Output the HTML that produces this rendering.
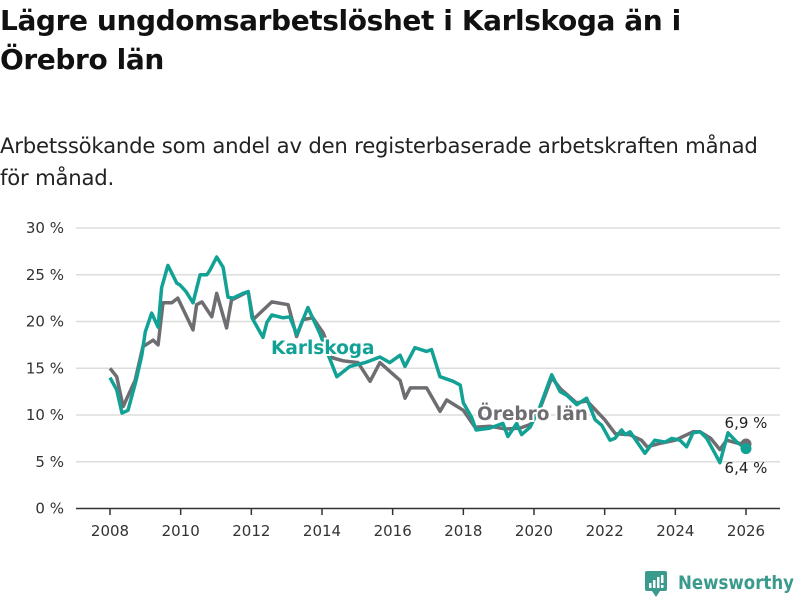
<!DOCTYPE html>
<html><head><meta charset="utf-8"><style>
body{margin:0;background:#fff;font-family:"DejaVu Sans","Liberation Sans",sans-serif;}
#wrap{position:relative;width:800px;height:600px;overflow:hidden;}
h1{position:absolute;left:0;top:1px;margin:0;font-size:28px;line-height:39px;font-weight:bold;color:#111;width:760px;letter-spacing:-0.4px;}
p.sub{position:absolute;left:0;top:130px;margin:0;font-size:21.2px;line-height:32px;color:#222;width:792px;letter-spacing:-0.2px;}
</style></head><body>
<div id="wrap">
<h1>Lägre ungdomsarbetslöshet i Karlskoga än i Örebro län</h1>
<p class="sub">Arbetssökande som andel av den registerbaserade arbetskraften månad för månad.</p>
<svg id="chart" width="800" height="600" style="position:absolute;left:0;top:0"></svg>
</div>
<script>
const yTicks=[0,5,10,15,20,25,30];
const xTicks=[2008,2010,2012,2014,2016,2018,2020,2022,2024,2026];
const orebroYears=[2008.0,2008.19,2008.37,2008.71,2008.93,2009.22,2009.36,2009.5,2009.75,2009.92,2010.35,2010.45,2010.6,2010.88,2011.02,2011.3,2011.44,2011.91,2012.05,2012.58,2013.04,2013.28,2013.46,2013.74,2014.03,2014.31,2014.6,2015.02,2015.36,2015.64,2016.21,2016.35,2016.5,2016.96,2017.34,2017.53,2018.0,2018.33,2018.75,2019.2,2019.6,2019.9,2020.2,2020.5,2020.75,2021.2,2021.5,2022.0,2022.3,2022.7,2023.04,2023.2,2023.6,2024.0,2024.5,2024.7,2025.0,2025.26,2025.45,2025.75,2026.0];
const orebroValues=[15.0,14.1,10.9,13.7,17.3,18.0,17.5,22.0,22.0,22.5,19.1,21.8,22.1,20.5,23.0,19.3,22.3,23.2,20.2,22.1,21.8,18.4,20.2,20.4,18.8,16.1,15.8,15.6,13.6,15.6,13.7,11.8,12.9,12.9,10.4,11.6,10.5,8.7,8.8,8.5,8.6,9.0,11.0,14.0,12.8,11.3,11.5,9.5,8.0,7.9,7.3,6.6,7.0,7.3,8.2,8.2,7.5,6.3,7.3,7.0,6.9];
const karlYears=[2008.0,2008.19,2008.34,2008.51,2008.74,2008.9,2009.0,2009.18,2009.36,2009.46,2009.64,2009.89,2009.98,2010.15,2010.35,2010.55,2010.74,2010.83,2011.02,2011.2,2011.34,2011.48,2011.76,2011.91,2012.02,2012.33,2012.44,2012.58,2012.9,2013.09,2013.29,2013.6,2013.94,2014.42,2014.79,2015.22,2015.64,2015.92,2016.21,2016.35,2016.63,2016.96,2017.1,2017.34,2017.71,2017.91,2018.0,2018.24,2018.36,2018.75,2019.12,2019.26,2019.51,2019.65,2019.89,2020.17,2020.5,2020.74,2020.93,2021.21,2021.49,2021.73,2021.92,2022.15,2022.29,2022.48,2022.58,2022.72,2023.14,2023.42,2023.71,2023.9,2024.13,2024.32,2024.5,2024.7,2024.89,2025.12,2025.26,2025.49,2025.74,2026.0];
const karlValues=[14.0,12.7,10.2,10.5,13.7,16.4,18.9,20.9,19.4,23.6,26.0,24.1,23.9,23.2,22.0,25.0,25.0,25.5,26.9,25.8,22.6,22.5,23.0,23.2,20.4,18.3,19.9,20.7,20.4,20.5,18.6,21.5,18.7,14.1,15.2,15.6,16.2,15.6,16.4,15.2,17.2,16.8,17.0,14.1,13.6,13.2,11.3,9.7,8.4,8.6,9.1,7.7,9.1,7.9,8.7,10.9,14.3,12.5,12.1,11.1,11.8,9.5,8.9,7.3,7.5,8.4,7.9,8.2,5.9,7.3,7.1,7.5,7.3,6.6,8.1,8.2,7.5,5.9,4.9,8.1,7.1,6.4];

const NS="http://www.w3.org/2000/svg";
const svg=document.getElementById('chart');
const X0=110,X1=746,Y0=508.5,Y30=228;
const xs=y=>X0+(y-2008)*(X1-X0)/18;
const ys=v=>Y0-v*(Y0-Y30)/30;
function mk(t,a){const e=document.createElementNS(NS,t);for(const k in a)e.setAttribute(k,a[k]);svg.appendChild(e);return e;}
yTicks.forEach(v=>{
  if(v>0){const g=mk('line',{x1:76,x2:780,y1:ys(v),y2:ys(v),stroke:'#ddd','stroke-width':1.5});
  
  }
  const t=mk('text',{x:64,y:ys(v)+5,'text-anchor':'end','font-size':15,fill:'#333'});t.textContent=v+' %';
  
  
});
const ax=mk('line',{x1:76,x2:780,y1:508.5,y2:508.5,stroke:'#333','stroke-width':1.5});


xTicks.forEach(y=>{
  const tk=mk('line',{x1:xs(y),x2:xs(y),y1:508,y2:515,stroke:'#333','stroke-width':1.5});
  
  
  const t=mk('text',{x:xs(y),y:536,'text-anchor':'middle','font-size':15,fill:'#333'});t.textContent=y;
  
  
});
function path(ys_,vs){return ys_.map((y,i)=>(i?'L':'M')+xs(y).toFixed(1)+','+ys(vs[i]).toFixed(1)).join(' ');}
const lo=mk('path',{d:path(orebroYears,orebroValues),fill:'none',stroke:'#6e6e72','stroke-width':3.5,'stroke-linejoin':'round'});


const lk=mk('path',{d:path(karlYears,karlValues),fill:'none',stroke:'#12a295','stroke-width':3.5,'stroke-linejoin':'round'});


const lastO=orebroValues[orebroValues.length-1],lastK=karlValues[karlValues.length-1];
const d1=mk('circle',{cx:xs(orebroYears[orebroYears.length-1]),cy:ys(lastO),r:5.5,fill:'#6e6e72'});


const d2=mk('circle',{cx:xs(karlYears[karlYears.length-1]),cy:ys(lastK),r:5.5,fill:'#12a295'});


const l1=mk('text',{x:746,y:428,'text-anchor':'middle','font-size':15,fill:'#222'});l1.textContent=String(lastO).replace('.',',')+' %';


const l2=mk('text',{x:746,y:473,'text-anchor':'middle','font-size':15,fill:'#222'});l2.textContent=String(lastK).replace('.',',')+' %';


const sk=mk('text',{x:271,y:354,'font-size':18.5,'font-weight':'bold',fill:'#12a295',stroke:'#fff','stroke-width':4,'paint-order':'stroke'});sk.textContent='Karlskoga';


const so=mk('text',{x:477,y:420,'font-size':18.5,'font-weight':'bold',fill:'#6e6e72',stroke:'#fff','stroke-width':4,'paint-order':'stroke'});so.textContent='Örebro län';


const lg=mk('g',{});


lg.innerHTML='<rect x="645" y="571" width="22" height="20" rx="2" fill="#3a9a8c"/><path d="M652 591 L656 597 L660 591Z" fill="#3a9a8c"/><rect x="649" y="583" width="2.5" height="5" fill="#fff"/><rect x="653" y="580" width="2.5" height="8" fill="#fff"/><rect x="657" y="577" width="2.5" height="11" fill="#fff"/><rect x="661" y="575" width="2.5" height="8" fill="#fff"/><rect x="661" y="585" width="2.5" height="3" fill="#fff"/><text x="678" y="589" font-size="19" font-weight="bold" fill="#3a9a8c" textLength="116" lengthAdjust="spacingAndGlyphs">Newsworthy</text>';
</script>
</body></html>
